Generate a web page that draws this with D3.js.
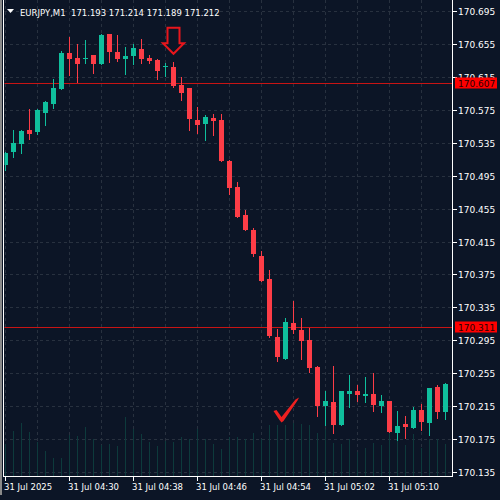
<!DOCTYPE html>
<html>
<head>
<meta charset="utf-8">
<script src="https://cdn.jsdelivr.net/npm/d3@7"></script>
<style>
  body { margin: 0; background: #0c1526; }
  svg { display: block; }
  text { font-family: "DejaVu Sans", sans-serif; }
</style>
</head>
<body>
<div id="chart"></div>
<script>
// EURJPY M1, one candle per minute starting 31 Jul 2025 04:22
var startTime = new Date(2025, 6, 31, 4, 22);

var opens = [170.508, 170.524, 170.533, 170.550, 170.548, 170.571, 170.582, 170.600, 170.644, 170.638,
    170.637, 170.642, 170.631, 170.667, 170.645, 170.637, 170.640, 170.649, 170.638, 170.635,
    170.627, 170.627, 170.605, 170.601, 170.563, 170.558, 170.565, 170.563, 170.513, 170.481,
    170.447, 170.429, 170.397, 170.369, 170.299, 170.272, 170.316, 170.307, 170.295, 170.263,
    170.215, 170.220, 170.192, 170.230, 170.233, 170.227, 170.230, 170.215, 170.221, 170.182,
    170.193, 170.188, 170.210, 170.195, 170.238, 170.208];
var highs = [170.524, 170.550, 170.550, 170.576, 170.576, 170.586, 170.612, 170.646, 170.664, 170.655,
    170.660, 170.642, 170.667, 170.667, 170.666, 170.651, 170.655, 170.661, 170.642, 170.637,
    170.632, 170.633, 170.615, 170.601, 170.578, 170.569, 170.570, 170.570, 170.514, 170.487,
    170.453, 170.431, 170.403, 170.380, 170.309, 170.322, 170.343, 170.322, 170.310, 170.264,
    170.233, 170.264, 170.233, 170.253, 170.241, 170.250, 170.255, 170.229, 170.221, 170.209,
    170.203, 170.214, 170.218, 170.237, 170.241, 170.243];
var lows = [170.502, 170.518, 170.523, 170.540, 170.546, 170.557, 170.577, 170.600, 170.617, 170.609,
    170.632, 170.620, 170.631, 170.633, 170.634, 170.618, 170.631, 170.632, 170.632, 170.612,
    170.616, 170.603, 170.587, 170.550, 170.547, 170.538, 170.544, 170.513, 170.473, 170.445,
    170.429, 170.397, 170.367, 170.299, 170.270, 170.272, 170.304, 170.272, 170.256, 170.203,
    170.192, 170.182, 170.192, 170.214, 170.221, 170.220, 170.209, 170.208, 170.184, 170.174,
    170.176, 170.188, 170.186, 170.180, 170.201, 170.199];
var closes = [170.523, 170.535, 170.549, 170.546, 170.575, 170.584, 170.601, 170.644, 170.637, 170.631,
    170.638, 170.631, 170.666, 170.645, 170.637, 170.640, 170.650, 170.637, 170.634, 170.622,
    170.628, 170.604, 170.595, 170.564, 170.557, 170.566, 170.561, 170.513, 170.480, 170.445,
    170.429, 170.400, 170.367, 170.300, 170.275, 170.317, 170.307, 170.294, 170.261, 170.215,
    170.221, 170.192, 170.233, 170.233, 170.229, 170.230, 170.216, 170.221, 170.184, 170.191,
    170.190, 170.210, 170.196, 170.237, 170.208, 170.242];
var volumes = [95, 135, 158, 132, 102, 75, 53, 53, 122, 120,
    147, 112, 92, 95, 90, 177, 140, 125, 102, 90,
    105, 102, 117, 112, 140, 112, 95, 80, 117, 117,
    112, 128, 112, 152, 152, 152, 158, 155, 152, 128,
    140, 98, 95, 112, 72, 83, 98, 92, 135, 115,
    92, 125, 85, 112, 112, 95];

var priceTicks = [170.695, 170.655, 170.615, 170.575, 170.535, 170.495, 170.455, 170.415,
    170.375, 170.335, 170.295, 170.255, 170.215, 170.175, 170.135];
var timeTickLabels = ["31 Jul 2025", "31 Jul 04:30", "31 Jul 04:38", "31 Jul 04:46",
    "31 Jul 04:54", "31 Jul 05:02", "31 Jul 05:10"];
var markedPrices = [170.607, 170.311];
var headerText = "EURJPY,M1  171.193 171.214 171.189 171.212";

var W = 500, H = 500;
var plot = { left: 4, right: 452, top: 0, bottom: 476 };
var bg = "#0c1526", up = "#0fbf9d", down = "#fd3d47", grid = "#28313f";

var candles = opens.map(function(o, i) {
    return {
        t: d3.timeMinute.offset(startTime, i),
        o: o, h: highs[i], l: lows[i], c: closes[i], v: volumes[i]
    };
});

var svg = d3.select("#chart").append("svg")
    .attr("width", W)
    .attr("height", H);

svg.append("rect").attr("width", W).attr("height", H).attr("fill", bg);

var x = d3.scaleTime()
    .domain([startTime, d3.timeMinute.offset(startTime, 8)])
    .range([5.5, 69.5]);
var y = d3.scaleLinear()
    .domain([170.135, 170.695])
    .range([472, 11]);
var yVol = d3.scaleLinear()
    .domain([0, 300])
    .range([plot.bottom, plot.bottom - 100]);

svg.append("clipPath").attr("id", "plotclip")
    .append("rect")
    .attr("x", plot.left + 0.5).attr("y", plot.top)
    .attr("width", plot.right - plot.left - 0.5)
    .attr("height", plot.bottom - plot.top);

var g = svg.append("g").attr("clip-path", "url(#plotclip)");

// dashed grid
var vTimes = d3.range(0, 15).map(function(i) { return d3.timeMinute.offset(startTime, i * 4); });
g.selectAll(".vgrid").data(vTimes).enter().append("line")
    .attr("x1", function(d) { return Math.floor(x(d)) + 0.5; })
    .attr("x2", function(d) { return Math.floor(x(d)) + 0.5; })
    .attr("y1", plot.top).attr("y2", plot.bottom)
    .attr("stroke", grid).attr("stroke-dasharray", "3,3");
g.selectAll(".hgrid").data(priceTicks).enter().append("line")
    .attr("x1", plot.left).attr("x2", plot.right)
    .attr("y1", function(d) { return Math.round(y(d)) + 0.5; })
    .attr("y2", function(d) { return Math.round(y(d)) + 0.5; })
    .attr("stroke", grid).attr("stroke-dasharray", "3,3");

// tick volumes
g.selectAll(".vol").data(candles).enter().append("line")
    .attr("x1", function(d) { return Math.floor(x(d.t)) + 0.5; })
    .attr("x2", function(d) { return Math.floor(x(d.t)) + 0.5; })
    .attr("y1", plot.bottom)
    .attr("y2", function(d) { return Math.round(yVol(d.v)); })
    .attr("stroke", "#0d3a3c");

// marked price lines
g.selectAll(".pline").data(markedPrices).enter().append("line")
    .attr("x1", plot.left).attr("x2", plot.right)
    .attr("y1", function(d) { return Math.round(y(d)) + 0.5; })
    .attr("y2", function(d) { return Math.round(y(d)) + 0.5; })
    .attr("stroke", "#c81414");

// candles
var cg = g.selectAll(".candle").data(candles).enter().append("g");
cg.append("line")
    .attr("x1", function(d) { return Math.floor(x(d.t)) + 0.5; })
    .attr("x2", function(d) { return Math.floor(x(d.t)) + 0.5; })
    .attr("y1", function(d) { return Math.round(y(d.h)); })
    .attr("y2", function(d) { return Math.round(y(d.l)) + 1; })
    .attr("stroke", function(d) { return d.c >= d.o ? up : down; });
cg.append("rect")
    .attr("x", function(d) { return Math.floor(x(d.t)) - 2; })
    .attr("width", 5)
    .attr("y", function(d) { return Math.round(y(Math.max(d.o, d.c))); })
    .attr("height", function(d) {
        return Math.max(1, Math.round(y(Math.min(d.o, d.c))) - Math.round(y(Math.max(d.o, d.c))));
    })
    .attr("fill", function(d) { return d.c >= d.o ? up : down; });

// arrow above the turn (candle 04:43)
var arrowAt = { t: d3.timeMinute.offset(startTime, 21), p: 170.643 };
g.append("path")
    .attr("transform", "translate(" + x(arrowAt.t) + "," + y(arrowAt.p) + ")")
    .attr("d", "M-6,-26 L6,-26 L6,-10.5 L10.5,-10.5 L0,0 L-10.5,-10.5 L-6,-10.5 Z")
    .attr("fill", bg)
    .attr("stroke", "#e8161c")
    .attr("stroke-width", 2);

// check mark below the drop (candle 04:56)
var checkAt = { t: d3.timeMinute.offset(startTime, 34), p: 170.197 };
g.append("path")
    .attr("transform", "translate(" + (x(checkAt.t) + 4) + "," + y(checkAt.p) + ")")
    .attr("d", "M-8,-10 L-5,-11 L0,-4 L14,-21.5 L17.5,-23.5 L16,-20.5 L2,0 L0,1.5 L-2,-1 Z")
    .attr("fill", "#ee2020");

// frame
svg.append("rect").attr("x", 0).attr("y", 0).attr("width", 2).attr("height", 495).attr("fill", "#8a8a8a");
svg.append("line").attr("x1", 3.5).attr("x2", 3.5).attr("y1", 0).attr("y2", plot.bottom + 1)
    .attr("stroke", "#ffffff");
svg.append("line").attr("x1", plot.right + 0.5).attr("x2", plot.right + 0.5).attr("y1", 0).attr("y2", plot.bottom + 1)
    .attr("stroke", "#ffffff");
svg.append("line").attr("x1", 3).attr("x2", plot.right + 1).attr("y1", plot.bottom + 0.5).attr("y2", plot.bottom + 0.5)
    .attr("stroke", "#ffffff");

// price axis
var yAxis = svg.append("g");
yAxis.selectAll("line").data(priceTicks).enter().append("line")
    .attr("x1", plot.right + 1).attr("x2", plot.right + 5)
    .attr("y1", function(d) { return Math.round(y(d)) + 0.5; })
    .attr("y2", function(d) { return Math.round(y(d)) + 0.5; })
    .attr("stroke", "#ffffff");
yAxis.selectAll("text").data(priceTicks).enter().append("text")
    .attr("x", 458)
    .attr("y", function(d) { return Math.round(y(d)) + 3.5; })
    .attr("fill", "#ffffff")
    .attr("font-size", 9)
    .text(function(d) { return d3.format(".3f")(d); });

// red price labels (they sit over the axis, as on the terminal)
var tags = svg.selectAll(".tag").data(markedPrices).enter().append("g")
    .attr("transform", function(d) { return "translate(455," + Math.round(y(d)) + ")"; });
tags.append("rect").attr("x", 0).attr("y", -5.5).attr("width", 42).attr("height", 11).attr("fill", "#ff0000");
tags.append("text").attr("x", 3).attr("y", 3.5)
    .attr("fill", "#2a0000").attr("font-size", 9)
    .text(function(d) { return d3.format(".3f")(d); });

// time axis
var timeTicks = timeTickLabels.map(function(s, i) { return d3.timeMinute.offset(startTime, i * 8); });
var xAxis = svg.append("g");
xAxis.selectAll("line").data(timeTicks).enter().append("line")
    .attr("x1", function(d) { return Math.floor(x(d)) + 0.5; })
    .attr("x2", function(d) { return Math.floor(x(d)) + 0.5; })
    .attr("y1", plot.bottom + 1).attr("y2", plot.bottom + 5)
    .attr("stroke", "#ffffff");
xAxis.selectAll("text").data(timeTicks).enter().append("text")
    .attr("x", function(d) { return Math.floor(x(d)) - 1; })
    .attr("y", 490)
    .attr("fill", "#ffffff")
    .attr("font-size", 8.5)
    .text(function(d, i) { return timeTickLabels[i]; });

// header
svg.append("path").attr("d", "M7,9 L14,9 L10.5,13 Z").attr("fill", "#ffffff");
svg.append("text").attr("x", 20).attr("y", 16)
    .attr("fill", "#ffffff").attr("font-size", 8.5)
    .attr("xml:space", "preserve")
    .style("white-space", "pre")
    .text(headerText);
</script>
</body>
</html>
